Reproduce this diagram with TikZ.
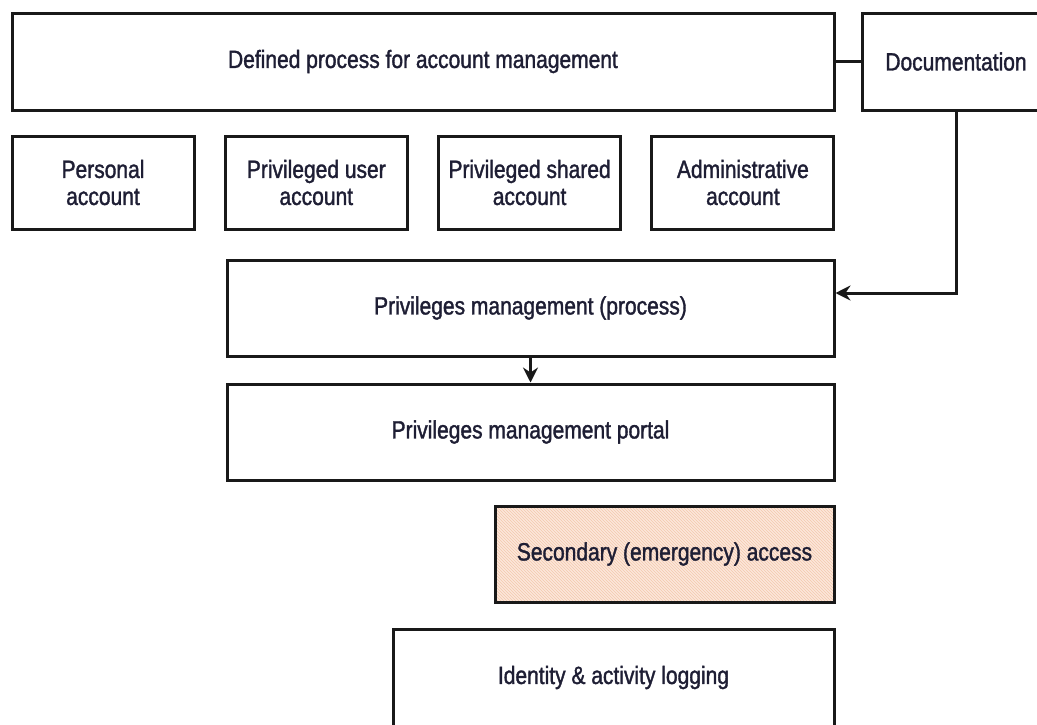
\documentclass[tikz,border=0pt]{standalone}
\usepackage{fontspec}
\setmainfont{Liberation Sans}[FakeStretch=0.84, FakeBold=1.4]
\usetikzlibrary{arrows.meta}
\usetikzlibrary{positioning}
\usetikzlibrary{patterns}
\definecolor{peach}{HTML}{FCE7DA}
\definecolor{peachline}{HTML}{F3C9AE}
\definecolor{inktext}{HTML}{1E1E34}
\tikzstyle{box} = [rectangle, draw=black!90, line width=3pt, fill=white, text=inktext, align=center, inner sep=0pt, font=\fontsize{25}{27}\selectfont]
\tikzstyle{widebox} = [box, minimum width=607pt, minimum height=96pt]
\tikzstyle{acctbox} = [box, minimum width=182pt, minimum height=93pt]
\tikzstyle{hatched} = [preaction={fill=peach}, pattern=north west lines, pattern color=peachline]
\tikzstyle{arrow} = [-{Stealth[length=15pt,width=15pt,inset=5pt]}, line width=3pt, draw=black!90]

\begin{document}
\begin{tikzpicture}[x=1pt, y=-1pt, node distance=28.3pt]

  \useasboundingbox (0,0) rectangle (1037,724);
  \clip (0,0) rectangle (1037,724);

  % We start by placing the blocks
  \node (defined) [box, minimum width=822pt, minimum height=97pt] at (423,61.5) {Defined process for account management};
  \node (docs) [box, minimum width=188pt, minimum height=97pt] at (956,61.5) {Documentation};

  \node (personal) [acctbox] at (103,182.5) {Personal\\account};
  \node (privuser) [acctbox, right=of personal] {Privileged user\\account};
  \node (privshared) [acctbox, right=of privuser] {Privileged shared\\account};
  \node (admin) [acctbox, right=of privshared] {Administrative\\account};

  \node (process) [widebox] at (530.5,308) {Privileges management (process)};
  \node (portal) [widebox, below=25pt of process] {Privileges management portal};
  \node (secondary) [box, hatched, minimum width=339pt, minimum height=96pt, below=23pt of portal.south east, anchor=north east] {Secondary (emergency) access};
  \node (logging) [box, minimum width=441pt, minimum height=97pt, below=24pt of secondary.south east, anchor=north east] {Identity \& activity logging};

  % draw connections between nodes
  \draw [line width=3pt, draw=black!90] (defined) -- (docs);
  \draw [arrow] (docs.south) |- ([yshift=15pt]process.east);
  \draw [arrow] (process) -- (portal);

\end{tikzpicture}
\end{document}
